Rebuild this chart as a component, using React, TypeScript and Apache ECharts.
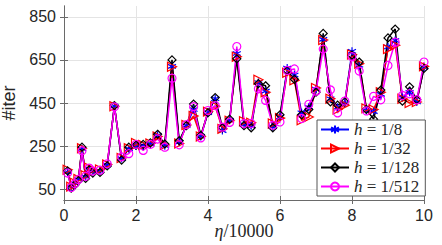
import React, { useEffect, useRef } from "react";
import * as echarts from "echarts";

const etaX = [0.1, 0.2, 0.3, 0.4, 0.5, 0.6, 0.7, 0.8, 1.0, 1.2, 1.4, 1.6, 1.8, 2.0, 2.2, 2.4, 2.6, 2.8, 3.0, 3.2, 3.4, 3.6, 3.8, 4.0, 4.2, 4.4, 4.6, 4.8, 5.0, 5.2, 5.4, 5.6, 5.8, 6.0, 6.2, 6.4, 6.6, 6.8, 7.0, 7.2, 7.4, 7.6, 7.8, 8.0, 8.2, 8.4, 8.6, 8.8, 9.0, 9.2, 9.4, 9.6, 9.8, 10.0];

const iterH8 = [130, 60, 78, 95, 238, 108, 145, 132, 135, 162, 436, 192, 238, 250, 250, 260, 300, 252, 620, 268, 345, 420, 295, 405, 470, 322, 370, 680, 350, 345, 545, 505, 340, 385, 612, 580, 405, 430, 515, 745, 470, 430, 450, 690, 625, 415, 410, 490, 710, 740, 475, 500, 455, 615];
const iterH32 = [140, 62, 80, 98, 240, 115, 150, 140, 142, 165, 435, 195, 240, 265, 255, 262, 295, 255, 618, 262, 348, 390, 295, 410, 435, 330, 368, 665, 365, 358, 558, 500, 355, 380, 590, 555, 370, 385, 520, 742, 470, 420, 440, 675, 632, 425, 420, 500, 700, 718, 470, 450, 455, 620];
const iterH128 = [135, 55, 70, 90, 245, 100, 140, 125, 128, 158, 438, 185, 245, 255, 258, 265, 305, 260, 650, 275, 345, 445, 300, 405, 475, 335, 375, 655, 345, 335, 540, 530, 335, 395, 600, 560, 395, 420, 500, 773, 455, 440, 455, 672, 640, 420, 375, 510, 752, 793, 458, 525, 465, 610];
const iterH512 = [125, 58, 76, 95, 228, 110, 148, 135, 138, 168, 432, 200, 215, 258, 230, 258, 283, 245, 565, 256, 350, 433, 288, 415, 438, 338, 360, 712, 355, 355, 516, 462, 347, 362, 601, 608, 378, 444, 505, 700, 511, 404, 459, 665, 598, 413, 481, 465, 624, 732, 485, 493, 465, 640];

const seriesNames = ["h = 1/8", "h = 1/32", "h = 1/128", "h = 1/512"];
const yTicks = [50, 250, 450, 650, 850];

const AXIS = "#6a6a6a";
const LABEL = "#262626";
const GRIDC = "#e4e4e4";
const SERIF = "Liberation Serif";
const SANS = "Liberation Sans";

export default function App() {
  const ref = useRef<HTMLDivElement>(null);
  useEffect(() => {
    if (!ref.current) return;
    const chart = echarts.init(ref.current, null, { renderer: "svg" });
    const pair = (ys: number[]) => etaX.map((x, i) => [x, ys[i]]);
    const mk = (name: string, ys: number[], color: string, symbol: string, size: number, rotate = 0) => ({
      name,
      type: "line",
      data: pair(ys),
      symbol,
      symbolSize: size,
      symbolRotate: rotate,
      showAllSymbol: true,
      lineStyle: { color, width: 1.5 },
      itemStyle: { color: symbol.startsWith("path") ? color : "rgba(255,255,255,0)", borderColor: color, borderWidth: 1.2 },
      emphasis: { disabled: true },
    });
    const asterisk = "path://M0,-10L0,10M-8.7,-5L8.7,5M-8.7,5L8.7,-5";
    const s0: any = mk(seriesNames[0], iterH8, "#0000ff", asterisk, 8);
    const s1: any = mk(seriesNames[1], iterH32, "#ff0000", "triangle", 9, -90);
    const s2: any = mk(seriesNames[2], iterH128, "#000000", "diamond", 8);
    const s3: any = mk(seriesNames[3], iterH512, "#ff00ff", "circle", 8);
    const tok = { fontFamily: SERIF, fontSize: 17, lineHeight: 17, color: LABEL };
    const nameTok = { fontFamily: SERIF, fontSize: 18, lineHeight: 20, color: LABEL };
    const option: any = {
      animation: false,
      grid: { left: 64, right: 18, top: 6, bottom: 45, outerBoundsMode: "none", containLabel: false },
      legend: {
        orient: "vertical",
        left: 317,
        top: 120,
        padding: [1, 6, 1, 3],
        itemWidth: 28,
        itemHeight: 10,
        itemGap: 2,
        backgroundColor: "#ffffff",
        borderColor: "#555",
        borderWidth: 1,
        borderRadius: 0,
        data: seriesNames,
        formatter: (name: string) => "{i|h}{n| = " + name.split("= ")[1] + "}",
        textStyle: {
          fontFamily: SERIF,
          fontSize: 17,
          lineHeight: 17,
          color: LABEL,
          rich: { i: { ...tok, fontStyle: "italic" }, n: { ...tok } },
        },
      },
      xAxis: [
        {
          type: "value",
          min: 0,
          max: 10,
          interval: 2,
          name: "{i|η}{n|/10000}",
          nameLocation: "middle",
          nameGap: 21,
          nameMoveOverlap: false,
          nameTextStyle: {
            ...nameTok,
            rich: { i: { ...nameTok, fontStyle: "italic" }, n: { ...nameTok } },
          },
          axisLine: { lineStyle: { color: AXIS, width: 1 } },
          axisTick: { inside: true, length: 4, lineStyle: { color: AXIS } },
          axisLabel: { fontFamily: SANS, fontSize: 16, color: LABEL, margin: 7 },
          splitLine: { show: true, lineStyle: { color: GRIDC, width: 1 } },
        },
        {
          type: "value",
          position: "top",
          min: 0,
          max: 10,
          interval: 2,
          axisLine: { show: true, lineStyle: { color: AXIS, width: 1 } },
          axisTick: { inside: true, length: 4, lineStyle: { color: AXIS } },
          axisLabel: { show: false },
          splitLine: { show: false },
        },
      ],
      yAxis: [
        {
          type: "value",
          min: 0,
          max: 900,
          name: "#iter",
          nameLocation: "middle",
          nameGap: 45,
          nameTextStyle: { fontFamily: SANS, fontSize: 18, color: LABEL },
          axisLine: { show: true, lineStyle: { color: AXIS, width: 1 } },
          axisTick: { show: true, inside: true, length: 4, customValues: yTicks, lineStyle: { color: AXIS } },
          axisLabel: { fontFamily: SANS, fontSize: 16, color: LABEL, margin: 8, customValues: yTicks },
          splitLine: { show: true, lineStyle: { color: GRIDC, width: 1 } },
        },
        {
          type: "value",
          position: "right",
          min: 0,
          max: 900,
          axisLine: { show: true, lineStyle: { color: AXIS, width: 1 } },
          axisTick: { show: true, inside: true, length: 4, customValues: yTicks, lineStyle: { color: AXIS } },
          axisLabel: { show: false, customValues: yTicks },
          splitLine: { show: false },
        },
      ],
      series: [s0, s1, s2, s3],
    };
    chart.setOption(option);
    return () => chart.dispose();
  }, []);
  return <div ref={ref} style={{ width: 442, height: 245, position: "absolute", left: 0, top: 0 }} />;
}
